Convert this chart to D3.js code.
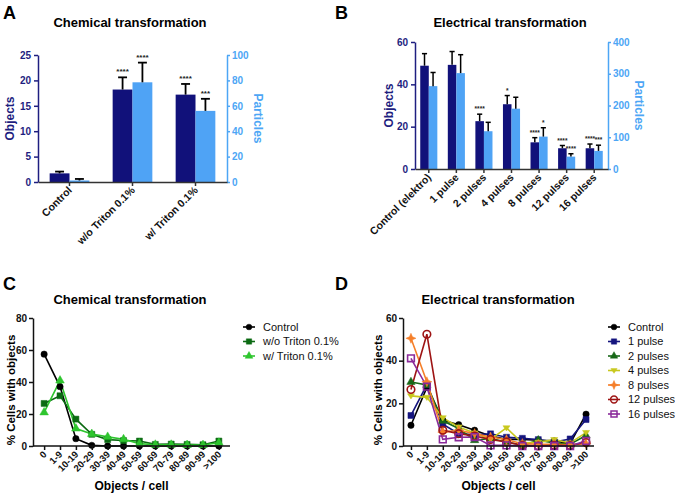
<!DOCTYPE html>
<html><head><meta charset="utf-8">
<script src="https://cdn.jsdelivr.net/npm/d3@7/dist/d3.min.js"></script>
<style>body{margin:0;background:#fff}svg{font-family:"Liberation Sans",Arial,sans-serif}</style>
</head><body>
<script>
// ---- Data ----
const chemCats = ["Control", "w/o Triton 0.1%", "w/ Triton 0.1%"];
const chemObjects = [1.7, 18.2, 17.2];
const chemObjectsErr = [0.35, 2.4, 2.1];
const chemParticles = [1.2, 78.5, 56];
const chemParticlesErr = [1.2, 15.5, 9.5];
const chemObjStars = ["", "****", "****"];
const chemPartStars = ["", "****", "***"];

const elecCats = ["Control (elektro)", "1 pulse", "2 pulses", "4 pulses", "8 pulses", "12 pulses", "16 pulses"];
const elecObjects = [48.8, 49.2, 22.6, 30.6, 12.6, 9.8, 9.8];
const elecObjectsErr = [5.7, 6.3, 3.3, 4.1, 2.2, 1.3, 2.0];
const elecParticles = [261, 302, 119, 190, 102, 39, 57];
const elecParticlesErr = [43, 58, 28, 36, 28, 9, 18];
const elecObjStars = ["", "", "****", "*", "****", "****", "****"];
const elecPartStars = ["", "", "", "", "*", "****", "***"];

const binCats = ["0", "1-9", "10-19", "20-29", "30-39", "40-49", "50-59", "60-69", "70-79", "80-89", "90-99", ">100"];
const chemSeriesNames = ["Control", "w/o Triton 0.1%", "w/ Triton 0.1%"];
const chemControl = [57.4, 37.1, 4.6, 0.4, 0, 0, 0, 0, 0, 0, 0, 0];
const chemWoTriton = [26.6, 31.4, 16.8, 7.3, 4.0, 3.4, 3.1, 1.0, 1.2, 1.0, 0.8, 3.1];
const chemWTriton = [21.0, 40.9, 10.9, 7.5, 5.7, 4.2, 1.5, 0.8, 0.8, 0.6, 0.6, 2.0];

const elecSeriesNames = ["Control", "1 pulse", "2 pulses", "4 pulses", "8 pulses", "12 pulses", "16 pulses"];
const elecControl = [9.7, 27.5, 12.1, 10.0, 7.4, 4.7, 3.1, 3.1, 2.7, 2.4, 1.1, 14.9];
const elec1 = [14.3, 28.7, 10.2, 5.8, 5.3, 5.7, 4.1, 3.6, 3.0, 1.9, 3.3, 12.4];
const elec2 = [30.0, 28.6, 11.8, 8.2, 2.7, 3.5, 1.9, 0.3, 2.7, 1.4, 0.8, 4.9];
const elec4 = [23.5, 22.8, 13.2, 8.9, 6.1, 3.1, 8.5, 1.4, 1.7, 3.0, 1.4, 6.3];
const elec8 = [50.5, 30.1, 6.5, 7.4, 5.8, 4.2, 3.0, 1.1, 0.8, 0.8, 0.6, 1.1];
const elec12 = [26.5, 52.4, 7.4, 5.8, 4.7, 3.1, 1.9, 0.3, 0, 0.3, 0.2, 1.6];
const elec16 = [41.1, 27.8, 3.1, 4.1, 4.2, 0.3, 0.3, 0, 0, 0, 0, 2.4];

const objTicksA = [0, 5, 10, 15, 20, 25];
const partTicksA = [0, 20, 40, 60, 80, 100];
const objTicksB = [0, 20, 40, 60];
const partTicksB = [0, 100, 200, 300, 400];
const pctTicksC = [0, 20, 40, 60, 80];
const pctTicksD = [0, 20, 40, 60];

// ---- Styles ----
const NAVY = "#11117a", LIGHT = "#4fa3f5", NAVYTXT = "#1e1e80", LIGHTTXT = "#4da6f5";

const svg = d3.select("body").append("svg").attr("width", 675).attr("height", 495);

function txt(x, y, s, opts = {}) {
  const t = svg.append("text").attr("x", x).attr("y", y).text(s)
    .attr("font-size", opts.size || 12).attr("font-weight", opts.weight || "bold")
    .attr("fill", opts.fill || "#000").attr("text-anchor", opts.anchor || "middle");
  if (opts.rotate !== undefined) t.attr("transform", `rotate(${opts.rotate},${x},${y})`);
  return t;
}

// Panel letters and titles
txt(3, 19, "A", {size: 18, anchor: "start"});
txt(335, 19, "B", {size: 18, anchor: "start"});
txt(3, 290, "C", {size: 18, anchor: "start"});
txt(335, 290, "D", {size: 18, anchor: "start"});
txt(130, 27, "Chemical transformation", {size: 13});
txt(510, 27, "Electrical transformation", {size: 13});
txt(130, 304, "Chemical transformation", {size: 13});
txt(498, 304, "Electrical transformation", {size: 13});

function styleAxis(g, color, fs) {
  g.selectAll("path").attr("stroke", color).attr("stroke-width", 1.5);
  g.selectAll("line").attr("stroke", color).attr("stroke-width", 1.5);
  g.selectAll("text").attr("fill", color).attr("font-weight", "bold").attr("font-size", fs)
    .attr("font-family", "Liberation Sans, Arial, sans-serif");
}

function barPanel(cfg) {
  const x = d3.scaleBand().domain(cfg.cats).range([cfg.x0, cfg.x1]).paddingInner(cfg.pad).paddingOuter(cfg.pad / 2);
  const yL = d3.scaleLinear().domain([0, cfg.objMax]).range([cfg.y0, cfg.y1]);
  const yR = d3.scaleLinear().domain([0, cfg.partMax]).range([cfg.y0, cfg.y1]);
  const bw = x.bandwidth() / 2;
  const g = svg.append("g");
  const rows = cfg.cats.map((c, i) => ({c, i}));
  g.selectAll(".bo").data(rows).join("rect")
    .attr("x", d => x(d.c)).attr("width", bw)
    .attr("y", d => yL(cfg.obj[d.i])).attr("height", d => cfg.y0 - yL(cfg.obj[d.i])).attr("fill", NAVY);
  g.selectAll(".bp").data(rows).join("rect")
    .attr("x", d => x(d.c) + bw).attr("width", bw)
    .attr("y", d => yR(cfg.part[d.i])).attr("height", d => cfg.y0 - yR(cfg.part[d.i])).attr("fill", LIGHT);
  const cap = bw * cfg.capF;
  const errs = [];
  rows.forEach(d => {
    errs.push({cx: x(d.c) + bw / 2, top: yL(cfg.obj[d.i] + cfg.objErr[d.i]), base: yL(cfg.obj[d.i]), star: cfg.objStars[d.i]});
    errs.push({cx: x(d.c) + bw * 1.5, top: yR(cfg.part[d.i] + cfg.partErr[d.i]), base: yR(cfg.part[d.i]), star: cfg.partStars[d.i]});
  });
  g.selectAll(".ev").data(errs).join("line")
    .attr("x1", d => d.cx).attr("x2", d => d.cx).attr("y1", d => d.base).attr("y2", d => d.top)
    .attr("stroke", "#000").attr("stroke-width", cfg.ew);
  g.selectAll(".ec").data(errs).join("line")
    .attr("x1", d => d.cx - cap / 2).attr("x2", d => d.cx + cap / 2).attr("y1", d => d.top).attr("y2", d => d.top)
    .attr("stroke", "#000").attr("stroke-width", cfg.ew);
  g.selectAll(".st").data(errs.filter(d => d.star)).join("text")
    .attr("x", d => d.cx).attr("y", d => d.top - 3).attr("text-anchor", "middle")
    .attr("font-size", cfg.starSize).attr("font-weight", "bold").attr("fill", "#222").text(d => d.star);
  const ax = g.append("g").attr("transform", `translate(${cfg.x0},0)`)
    .call(d3.axisLeft(yL).tickValues(cfg.objTicks).tickSize(4).tickPadding(3).tickSizeOuter(0));
  styleAxis(ax, NAVYTXT, 10);
  const ar = g.append("g").attr("transform", `translate(${cfg.x1},0)`)
    .call(d3.axisRight(yR).tickValues(cfg.partTicks).tickSize(3).tickPadding(2).tickSizeOuter(0));
  styleAxis(ar, LIGHTTXT, 10);
  const xa = g.append("g").attr("transform", `translate(0,${cfg.y0})`)
    .call(d3.axisBottom(x).tickSize(4).tickSizeOuter(0).tickFormat(""));
  xa.selectAll("path").attr("stroke", "#333").attr("stroke-width", 1.5);
  xa.selectAll("line").attr("stroke", "#333").attr("stroke-width", 1.5);
  g.selectAll(".xl").data(cfg.cats).join("text")
    .attr("transform", d => `translate(${x(d) + x.bandwidth() / 2 + 3},${cfg.y0 + 9}) rotate(-45)`)
    .attr("text-anchor", "end").attr("font-size", 10.5).attr("font-weight", "bold").attr("fill", "#111").text(d => d);
  txt(cfg.ylx, (cfg.y0 + cfg.y1) / 2, "Objects", {size: 12, fill: NAVYTXT, rotate: -90}).attr("dy", "0.35em");
  txt(cfg.yrx, (cfg.y0 + cfg.y1) / 2, "Particles", {size: 12, fill: LIGHTTXT, rotate: 90}).attr("dy", "0.35em");
}

barPanel({cats: chemCats, x0: 38, x1: 227, y0: 182, y1: 55, pad: 0.37, objMax: 25, partMax: 100,
  obj: chemObjects, objErr: chemObjectsErr, part: chemParticles, partErr: chemParticlesErr,
  objStars: chemObjStars, partStars: chemPartStars, objTicks: objTicksA, partTicks: partTicksA,
  capF: 0.45, ew: 1.8, starSize: 8, ylx: 10, yrx: 258});
barPanel({cats: elecCats, x0: 415, x1: 608, y0: 169, y1: 42, pad: 0.38, objMax: 60, partMax: 400,
  obj: elecObjects, objErr: elecObjectsErr, part: elecParticles, partErr: elecParticlesErr,
  objStars: elecObjStars, partStars: elecPartStars, objTicks: objTicksB, partTicks: partTicksB,
  capF: 0.6, ew: 1.5, starSize: 6.5, ylx: 389, yrx: 639});

// ---- Line panels ----
const star4 = {draw(ctx, size) {
  const r = Math.sqrt(size) * 0.75, q = r * 0.3;
  ctx.moveTo(0, -r); ctx.lineTo(q, -q); ctx.lineTo(r, 0); ctx.lineTo(q, q);
  ctx.lineTo(0, r); ctx.lineTo(-q, q); ctx.lineTo(-r, 0); ctx.lineTo(-q, -q); ctx.closePath();
}};
const triDown = {draw(ctx, size) {
  const r = Math.sqrt(size) * 0.62;
  ctx.moveTo(-r, -r * 0.6); ctx.lineTo(r, -r * 0.6); ctx.lineTo(0, r * 0.9); ctx.closePath();
}};

function linePanel(cfg) {
  const x = d3.scalePoint().domain(binCats).range([cfg.x0, cfg.x1]).padding(cfg.pad);
  const y = d3.scaleLinear().domain([0, cfg.ymax]).range([cfg.y0, cfg.y1]);
  const g = svg.append("g");
  const line = d3.line().x((d, i) => x(binCats[i])).y(d => y(d));
  cfg.series.forEach(s => {
    g.append("path").datum(s.vals).attr("d", line).attr("fill", "none")
      .attr("stroke", s.color).attr("stroke-width", 1.6);
  });
  cfg.series.forEach(s => {
    g.selectAll(null).data(s.vals).join("path")
      .attr("transform", (d, i) => `translate(${x(binCats[i])},${y(d)})`)
      .attr("d", d3.symbol().type(s.sym).size(s.size))
      .attr("fill", s.open ? "none" : s.color).attr("stroke", s.color).attr("stroke-width", s.open ? 1.6 : 0.5);
  });
  const ay = g.append("g").attr("transform", `translate(${cfg.x0},0)`)
    .call(d3.axisLeft(y).tickValues(cfg.ticks).tickSize(4).tickPadding(2).tickSizeOuter(0));
  styleAxis(ay, "#111", 10);
  const ax = g.append("g").attr("transform", `translate(0,${cfg.y0})`)
    .call(d3.axisBottom(x).tickSize(4).tickSizeOuter(0).tickFormat(""));
  ax.selectAll("path").attr("stroke", "#111").attr("stroke-width", 1.5);
  ax.selectAll("line").attr("stroke", "#111").attr("stroke-width", 1.5);
  ax.select("path").attr("d", `M${cfg.x0},0H${cfg.x1}`);
  g.selectAll(".xl").data(binCats).join("text")
    .attr("transform", d => `translate(${x(d) + 3},${cfg.y0 + 9}) rotate(-45)`)
    .attr("text-anchor", "end").attr("font-size", 9.5).attr("font-weight", "bold").attr("fill", "#111").text(d => d);
  txt((cfg.x0 + cfg.x1) / 2, 490, "Objects / cell", {size: 12});
  txt(cfg.ylx, (cfg.y0 + cfg.y1) / 2 + 8, "% Cells with objects", {size: 11.5, rotate: -90}).attr("dy", "0.35em");
  cfg.series.forEach((s, k) => {
    const ly = cfg.ly0 + k * cfg.lstep;
    g.append("line").attr("x1", cfg.lx - 6).attr("x2", cfg.lx + 6).attr("y1", ly).attr("y2", ly)
      .attr("stroke", s.color).attr("stroke-width", 1.6);
    g.append("path").attr("transform", `translate(${cfg.lx},${ly})`)
      .attr("d", d3.symbol().type(s.sym).size(s.size * 0.8))
      .attr("fill", s.open ? "none" : s.color).attr("stroke", s.color).attr("stroke-width", s.open ? 1.5 : 0.5);
    g.append("text").attr("x", cfg.lx + 14).attr("y", ly).attr("dy", "0.35em")
      .attr("font-size", 11).attr("fill", "#111").text(s.name);
  });
}

const chemColors = ["#000000", "#0b6a12", "#2ec52e"];
linePanel({x0: 33, x1: 230, y0: 446, y1: 318, pad: 0.7, ymax: 80, ticks: pctTicksC, ylx: 11,
  lx: 249, ly0: 327, lstep: 14.5,
  series: [
    {name: chemSeriesNames[0], vals: chemControl, color: chemColors[0], sym: d3.symbolCircle, size: 32},
    {name: chemSeriesNames[1], vals: chemWoTriton, color: chemColors[1], sym: d3.symbolSquare, size: 36},
    {name: chemSeriesNames[2], vals: chemWTriton, color: chemColors[2], sym: d3.symbolTriangle, size: 32}
  ]});

const elecColors = ["#000000", "#15157e", "#186818", "#c8c81e", "#f57f2a", "#9e1414", "#8a2a9a"];
linePanel({x0: 403, x1: 594, y0: 446, y1: 318, pad: 0.5, ymax: 60, ticks: pctTicksD, ylx: 378,
  lx: 614, ly0: 327, lstep: 14.5,
  series: [
    {name: elecSeriesNames[0], vals: elecControl, color: elecColors[0], sym: d3.symbolCircle, size: 32},
    {name: elecSeriesNames[1], vals: elec1, color: elecColors[1], sym: d3.symbolSquare, size: 36},
    {name: elecSeriesNames[2], vals: elec2, color: elecColors[2], sym: d3.symbolTriangle, size: 30},
    {name: elecSeriesNames[3], vals: elec4, color: elecColors[3], sym: triDown, size: 32},
    {name: elecSeriesNames[4], vals: elec8, color: elecColors[4], sym: star4, size: 45},
    {name: elecSeriesNames[5], vals: elec12, color: elecColors[5], sym: d3.symbolCircle, size: 45, open: true},
    {name: elecSeriesNames[6], vals: elec16, color: elecColors[6], sym: d3.symbolSquare, size: 45, open: true}
  ]});
</script>
</body></html>
